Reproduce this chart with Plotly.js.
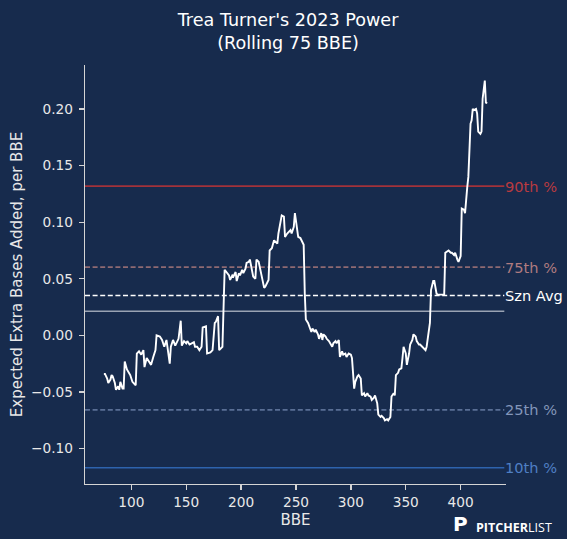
<!DOCTYPE html>
<html><head><meta charset="utf-8">
<script src="https://cdn.plot.ly/plotly-3.0.1.min.js"></script>
<style>html,body{margin:0;padding:0;background:#172b4d;}</style>
</head><body>
<div id="chart" style="width:567px;height:539px;"></div>
<script>
// ---- data ----
const bbe = [75,76,78,79,81,82,83,85,86,88,89,90,92,93,94,96,99,101,104,105,107,109,111,112,114,116,118,120,122,123,126,128,130,132,133,135,136,138,140,142,143,145,146,148,150,151,153,155,157,158,160,162,164,165,167,168,169,172,174,176,177,179,180,182,183,185,187,189,190,192,193,195,196,198,199,201,202,204,205,207,208,210,211,213,214,216,218,219,221,222,224,225,226,228,230,231,233,234,236,237,239,240,242,243,245,246,248,249,251,252,254,255,257,258,259,261,262,264,265,267,268,270,271,273,274,275,277,278,280,281,283,284,286,287,289,290,292,293,295,296,298,300,301,303,304,306,307,309,310,312,313,315,316,318,319,321,322,324,325,327,328,330,331,333,334,336,337,339,340,341,343,344,346,347,348,350,351,353,354,356,357,359,360,362,363,365,366,368,369,371,372,373,375,376,378,379,381,383,385,386,388,389,391,392,394,395,397,398,400,401,403,404,406,407,409,410,411,412,414,415,416,418,419,420,422,423,424];
const xeba = [-0.034,-0.034,-0.038,-0.042,-0.039,-0.035,-0.036,-0.042,-0.048,-0.045,-0.048,-0.041,-0.047,-0.047,-0.023,-0.030,-0.035,-0.041,-0.044,-0.016,-0.014,-0.017,-0.013,-0.028,-0.020,-0.023,-0.026,-0.019,-0.013,0.000,-0.001,-0.004,-0.010,-0.004,-0.013,-0.025,-0.010,-0.004,-0.009,-0.005,-0.003,0.013,-0.009,-0.005,-0.007,-0.005,-0.008,-0.007,-0.006,-0.010,-0.010,-0.013,-0.010,0.007,0.008,0.008,-0.016,-0.015,-0.013,0.011,0.012,0.017,-0.013,-0.011,-0.010,0.058,0.055,0.053,0.049,0.053,0.052,0.056,0.048,0.055,0.053,0.058,0.055,0.059,0.064,0.065,0.067,0.057,0.052,0.050,0.067,0.065,0.055,0.053,0.042,0.043,0.048,0.049,0.075,0.077,0.084,0.083,0.081,0.090,0.103,0.106,0.105,0.087,0.090,0.091,0.093,0.090,0.096,0.108,0.090,0.087,0.086,0.084,0.080,0.037,0.014,0.011,0.008,0.003,0.006,0.003,0.005,0.001,-0.003,0.002,-0.004,0.001,-0.001,-0.003,-0.005,-0.007,-0.010,-0.007,-0.005,-0.007,-0.004,-0.019,-0.014,-0.017,-0.016,-0.019,-0.016,-0.017,-0.020,-0.047,-0.041,-0.036,-0.035,-0.038,-0.053,-0.051,-0.054,-0.051,-0.053,-0.054,-0.057,-0.055,-0.053,-0.060,-0.070,-0.072,-0.071,-0.073,-0.075,-0.074,-0.075,-0.072,-0.054,-0.051,-0.053,-0.035,-0.033,-0.030,-0.029,-0.020,-0.010,-0.016,-0.026,-0.016,-0.008,-0.004,0.001,-0.001,-0.005,-0.008,-0.008,-0.010,-0.011,-0.013,-0.010,0.008,0.011,0.040,0.048,0.048,0.037,0.036,0.036,0.036,0.036,0.073,0.074,0.075,0.073,0.073,0.071,0.073,0.067,0.065,0.070,0.112,0.111,0.108,0.131,0.140,0.187,0.190,0.200,0.199,0.200,0.196,0.180,0.178,0.180,0.209,0.225,0.205,0.206];
const refNames = ['90th %','75th %','Szn Avg','','25th %','10th %'];
const refValues = [0.1318,0.0603,0.0353,0.0214,-0.0657,-0.1168];
const xTicks = [100,150,200,250,300,350,400];
const yTicks = [-0.10,-0.05,0.00,0.05,0.10,0.15,0.20];

// ---- styles ----
const refLineColors = ['#a3323a','#8f6a72','#ffffff','#9aa3b3','#5a6f95','#2e63ad'];
const refTextColors = ['#b83a40','#b07c80','#ffffff','#ffffff','#8396ba','#4f7fc4'];
const refDash = ['solid','5px,2.6px','5px,2.6px','solid','5px,2.6px','solid'];
const bg = '#172b4d';
const axisCol = '#d4d4d4';
const txtCol = '#e8e8e8';
const FONT = 'DejaVu Sans, sans-serif';

const shapes = refValues.map((v,i)=>({
  type:'line', xref:'paper', yref:'y', x0:0, x1:0.996, y0:v, y1:v,
  line:{color:refLineColors[i], width:1.6, dash:refDash[i]}, layer:'below'
}));

const annotations = refValues.map((v,i)=>({
  xref:'paper', yref:'y', x:1, y:v, xanchor:'left', yanchor:'middle', xshift:-3,
  text:refNames[i], showarrow:false, font:{family:FONT, size:14.6, color:refTextColors[i]}
})).filter(a=>a.text!=='');

annotations.push({
  xref:'paper', yref:'paper', x:0.893, y:-0.095, xanchor:'center', yanchor:'middle',
  text:'<b>P</b>', showarrow:false, font:{family:'DejaVu Sans, sans-serif', size:20, color:'#ffffff'}
});
annotations.push({
  xref:'paper', yref:'paper', x:0.924, y:-0.103, xanchor:'left', yanchor:'middle',
  text:'<b>PITCHER</b>LIST', showarrow:false, font:{family:'Open Sans, sans-serif', size:12.5, color:'#ffffff'}
});

const trace = {
  x: bbe, y: xeba, type:'scatter', mode:'lines',
  line:{color:'#ffffff', width:1.9}, hoverinfo:'skip'
};

const layout = {
  width:567, height:539,
  paper_bgcolor:bg, plot_bgcolor:bg,
  margin:{l:85, r:61, t:65, b:55},
  showlegend:false,
  font:{family:FONT, color:txtCol},
  title:{text:"Trea Turner's 2023 Power<br>(Rolling 75 BBE)", x:0.508, xref:'container', xanchor:'center',
         y:0.951, yref:'container', yanchor:'top', font:{family:FONT, size:17.6, color:'#ffffff'}},
  xaxis:{range:[57.8,441.3], tickvals:xTicks, ticktext:xTicks.map(String), showgrid:false, zeroline:false,
         showline:true, linecolor:axisCol, linewidth:1.3, ticks:'outside', ticklen:5, tickwidth:1.3, tickcolor:axisCol,
         tickfont:{family:FONT, size:13.7, color:txtCol},
         title:{text:'BBE', font:{family:FONT, size:15, color:txtCol}, standoff:5}},
  yaxis:{range:[-0.1312,0.2388], tickvals:yTicks, tickformat:'.2f', showgrid:false, zeroline:false,
         showline:true, linecolor:axisCol, linewidth:1.3, ticks:'outside', ticklen:5, tickwidth:1.3, tickcolor:axisCol,
         tickfont:{family:FONT, size:13.7, color:txtCol}, ticklabelstandoff:3,
         title:{text:'Expected Extra Bases Added, per BBE', font:{family:FONT, size:15, color:txtCol}, standoff:4}},
  shapes:shapes,
  annotations:annotations
};

Plotly.newPlot('chart',[trace],layout,{staticPlot:true, displayModeBar:false});
</script>
</body></html>
